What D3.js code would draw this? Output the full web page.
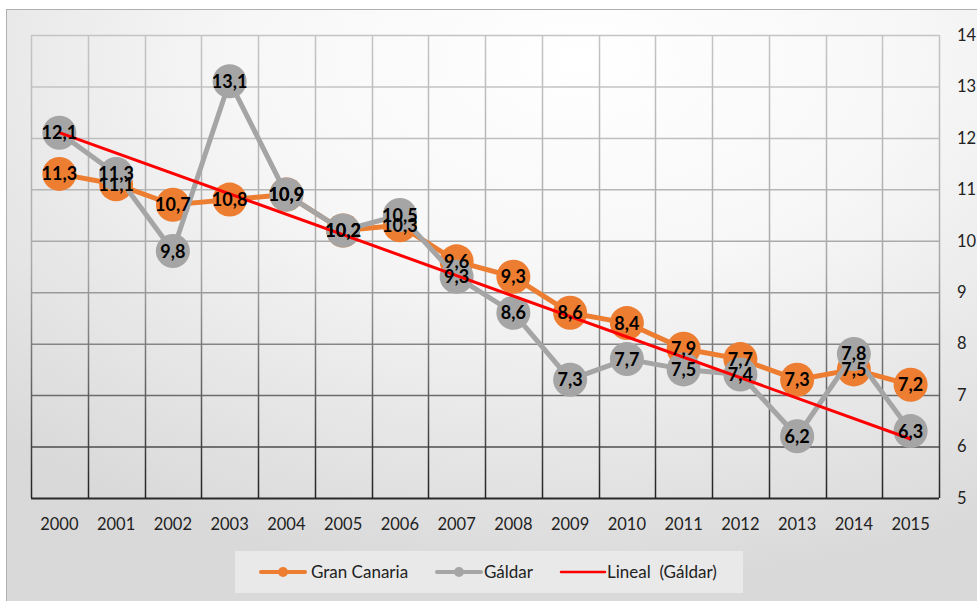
<!DOCTYPE html>
<html>
<head>
<meta charset="utf-8">
<script src="https://cdn.jsdelivr.net/npm/d3@7"></script>
<style>
  body { margin: 0; background: #fff; }
  svg { display: block; font-family: Lato, "Open Sans", sans-serif; }
</style>
</head>
<body>
<svg id="chart" width="977" height="601"></svg>
<script>
// Data
const years = ["2000","2001","2002","2003","2004","2005","2006","2007","2008","2009","2010","2011","2012","2013","2014","2015"];
const granCanaria = [11.3, 11.1, 10.7, 10.8, 10.9, 10.2, 10.3, 9.6, 9.3, 8.6, 8.4, 7.9, 7.7, 7.3, 7.5, 7.2];
const galdar = [12.1, 11.3, 9.8, 13.1, 10.9, 10.2, 10.5, 9.3, 8.6, 7.3, 7.7, 7.5, 7.4, 6.2, 7.8, 6.3];
const yTicks = [5, 6, 7, 8, 9, 10, 11, 12, 13, 14];
const legendLabels = ["Gran Canaria", "Gáldar", "Lineal  (Gáldar)"];

const width = 977;
const height = 601;
const plot = { left: 31, right: 939, top: 35, bottom: 498 };

const svg = d3.select("#chart");
const defs = svg.append("defs");

// Chart area background
const bg = defs.append("radialGradient")
  .attr("id", "bg")
  .attr("cx", "58%").attr("cy", "8%").attr("r", "85%");
bg.append("stop").attr("offset", "0%").attr("stop-color", "#ffffff");
bg.append("stop").attr("offset", "40%").attr("stop-color", "#f7f7f7");
bg.append("stop").attr("offset", "100%").attr("stop-color", "#d9d9d9");

// Gridline gradient: light at top, dark at the bottom
const gridGrad = defs.append("linearGradient")
  .attr("id", "grid")
  .attr("gradientUnits", "userSpaceOnUse")
  .attr("x1", 0).attr("y1", plot.top).attr("x2", 0).attr("y2", plot.bottom);
gridGrad.append("stop").attr("offset", "0%").attr("stop-color", "#c4c4c4");
gridGrad.append("stop").attr("offset", "50%").attr("stop-color", "#a8a8a8");
gridGrad.append("stop").attr("offset", "100%").attr("stop-color", "#222222");

svg.append("rect")
  .attr("x", 6.5).attr("y", 9.5)
  .attr("width", 990).attr("height", 620)
  .attr("fill", "url(#bg)")
  .attr("stroke", "#b0b0b0");

// Scales
const x = d3.scaleBand()
  .domain(years)
  .range([plot.left, plot.right]);

const y = d3.scaleLinear()
  .domain([5, 14])
  .range([plot.bottom, plot.top]);

const cx = d => x(d) + x.bandwidth() / 2;

// Grid
const grid = svg.append("g");
grid.selectAll("line.h")
  .data(yTicks)
  .enter()
  .append("line")
  .attr("x1", plot.left).attr("x2", plot.right)
  .attr("y1", d => y(d) + 0.5).attr("y2", d => y(d) + 0.5)
  .attr("stroke", d => d3.interpolateRgb("#c4c4c4", "#2a2a2a")(Math.pow((14 - d) / 9, 2.2)))
  .attr("stroke-width", d => d === 5 ? 2 : 1.5);

const vEdges = years.map(d => x(d)).concat([plot.right]);
grid.selectAll("line.v")
  .data(vEdges)
  .enter()
  .append("line")
  .attr("x1", d => Math.round(d) + 0.5).attr("x2", d => Math.round(d) + 0.5)
  .attr("y1", plot.top).attr("y2", plot.bottom)
  .attr("stroke", "url(#grid)")
  .attr("stroke-width", 1.5);

// Axes (labels only)
const xAxis = svg.append("g")
  .attr("transform", `translate(0,${plot.bottom})`)
  .call(d3.axisBottom(x).tickSize(0).tickPadding(20));
xAxis.select(".domain").remove();
xAxis.selectAll("text").attr("font-size", 16.5).attr("fill", "#222").attr("font-family", "Lato, sans-serif");

const yAxis = svg.append("g")
  .attr("transform", `translate(${plot.right},0)`)
  .call(d3.axisRight(y).tickValues(yTicks).tickSize(0).tickPadding(18));
yAxis.select(".domain").remove();
yAxis.selectAll("text").attr("font-size", 16.5).attr("fill", "#222").attr("font-family", "Lato, sans-serif");

// Series
const series = [
  { name: legendLabels[0], values: granCanaria, color: "#ED7D31" },
  { name: legendLabels[1], values: galdar, color: "#A5A5A5" }
];

const line = d3.line()
  .x((d, i) => cx(years[i]))
  .y(d => y(d));

series.forEach(s => {
  const g = svg.append("g");
  g.append("path")
    .datum(s.values)
    .attr("d", line)
    .attr("fill", "none")
    .attr("stroke", s.color)
    .attr("stroke-width", 5)
    .attr("stroke-linejoin", "round");
  g.selectAll("circle")
    .data(s.values)
    .enter()
    .append("circle")
    .attr("cx", (d, i) => cx(years[i]))
    .attr("cy", d => y(d))
    .attr("r", 17)
    .attr("fill", s.color);
});

// Linear trend of Gáldar (least squares)
const idx = galdar.map((d, i) => i);
const mx = d3.mean(idx), my = d3.mean(galdar);
const slope = d3.sum(idx, i => (i - mx) * (galdar[i] - my)) / d3.sum(idx, i => (i - mx) * (i - mx));
const icpt = my - slope * mx;
const trend = [icpt, icpt + slope * (years.length - 1)];
svg.append("line")
  .attr("x1", cx(years[0])).attr("y1", y(trend[0]))
  .attr("x2", cx(years[years.length - 1])).attr("y2", y(trend[1]))
  .attr("stroke", "#FF0000")
  .attr("stroke-width", 3);

// Data labels
const fmt = v => d3.format(".1f")(v).replace(".", ",");
series.forEach(s => {
  svg.append("g").selectAll("text")
    .data(s.values)
    .enter()
    .append("text")
    .attr("x", (d, i) => cx(years[i]))
    .attr("y", d => y(d))
    .attr("dy", "0.36em")
    .attr("text-anchor", "middle")
    .attr("font-size", 18)
    .attr("font-weight", "bold")
    .attr("fill", "#000")
    .text(fmt);
});

// Legend
const legend = svg.append("g");
legend.append("rect")
  .attr("x", 235).attr("y", 551)
  .attr("width", 508).attr("height", 42)
  .attr("fill", "#e9e9e9");

const legendItems = [
  { label: legendLabels[0], color: "#ED7D31", x0: 261, marker: true, tx: 311 },
  { label: legendLabels[1], color: "#A5A5A5", x0: 437, marker: true, tx: 484 },
  { label: legendLabels[2], color: "#FF0000", x0: 561, marker: false, tx: 607 }
];
legendItems.forEach(it => {
  legend.append("line")
    .attr("x1", it.x0).attr("x2", it.x0 + 44)
    .attr("y1", 572).attr("y2", 572)
    .attr("stroke", it.color)
    .attr("stroke-width", it.marker ? 4 : 2.5)
    .attr("stroke-linecap", "round");
  if (it.marker) {
    legend.append("circle")
      .attr("cx", it.x0 + 22).attr("cy", 572).attr("r", 5)
      .attr("fill", it.color);
  }
  legend.append("text")
    .attr("x", it.tx).attr("y", 572)
    .attr("dy", "0.35em")
    .attr("font-size", 17)
    .attr("fill", "#222")
    .attr("xml:space", "preserve")
    .style("white-space", "pre")
    .text(it.label);
});
</script>
</body>
</html>
